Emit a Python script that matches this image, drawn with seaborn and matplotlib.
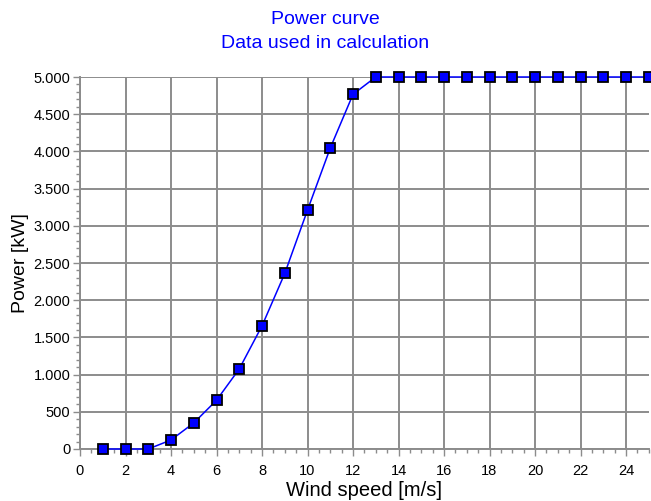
import matplotlib
matplotlib.use("Agg")
import matplotlib.pyplot as plt
import matplotlib.ticker as mticker
import seaborn as sns
import pandas as pd

wind_speed = [1, 2, 3, 4, 5, 6, 7, 8, 9, 10, 11, 12, 13, 14, 15, 16, 17, 18, 19, 20, 21, 22, 23, 24, 25]
power_kw = [0, 0, 0, 121, 350, 655, 1076, 1655, 2359, 3211, 4045, 4767,
            5000, 5000, 5000, 5000, 5000, 5000, 5000, 5000, 5000, 5000, 5000, 5000, 5000]
title_lines = ["Power curve", "Data used in calculation"]
x_label = "Wind speed [m/s]"
y_label = "Power [kW]"

sns.set_theme(style="white")
plt.rcParams['font.family'] = ['Liberation Sans', 'DejaVu Sans']

df = pd.DataFrame({"ws": wind_speed, "p": power_kw})

fig = plt.figure(figsize=(6.51, 5.01), dpi=100)
ax = fig.add_axes([80 / 651, 1 - 449 / 501, (648.75 - 80) / 651, (449 - 77) / 501])

sns.lineplot(data=df, x="ws", y="p", ax=ax, color="#0000ff", linewidth=1.1,
             marker="s", markersize=7, markerfacecolor="#0000ff",
             markeredgecolor="black", markeredgewidth=1.3, clip_on=False, zorder=5)

ax.set_xlim(0, 25)
ax.set_ylim(0, 5000)
ax.xaxis.set_major_locator(mticker.MultipleLocator(2))
ax.xaxis.set_minor_locator(mticker.MultipleLocator(0.5))
ax.yaxis.set_major_locator(mticker.MultipleLocator(500))
ax.yaxis.set_minor_locator(mticker.MultipleLocator(100))
ax.yaxis.set_major_formatter(mticker.FuncFormatter(lambda v, p: f"{int(v):,}".replace(",", ".")))

ax.grid(True, which="major", color="#8c8c8c", linewidth=1.4)
for s in ["top", "right"]:
    ax.spines[s].set_visible(False)
for s in ["left", "bottom"]:
    ax.spines[s].set_color("#8c8c8c")
    ax.spines[s].set_linewidth(1.4)

ax.tick_params(axis="both", which="major", direction="out", length=5, width=1,
               color="#8c8c8c", labelsize=10.5, labelcolor="black",
               bottom=True, left=True)
ax.tick_params(axis="x", which="major", pad=6)
ax.tick_params(axis="y", which="major", pad=2)
ax.tick_params(axis="both", which="minor", direction="out", length=3, width=1,
               color="#8c8c8c", bottom=True, left=True)

ax.set_xlabel(x_label, fontsize=14.5, color="black", labelpad=2)
ax.set_ylabel(y_label, fontsize=14, color="black", labelpad=3)

fig.text(0.5, 1 - 19 / 501, title_lines[0], ha="center", va="center", color="#0000ff", fontsize=14)
fig.text(0.5, 1 - 44 / 501, title_lines[1], ha="center", va="center", color="#0000ff", fontsize=14)

fig.savefig("out.png", dpi=100)
